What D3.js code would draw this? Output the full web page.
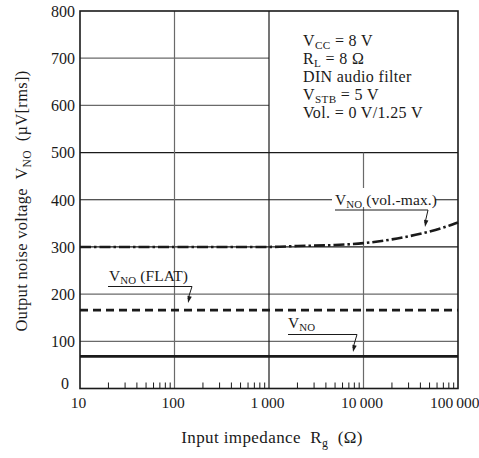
<!DOCTYPE html>
<html>
<head>
<meta charset="utf-8">
<script src="https://cdn.jsdelivr.net/npm/d3@7"></script>
<style>
  html, body { margin: 0; padding: 0; background: #fff; }
  svg { display: block; font-family: "Liberation Serif", "Times New Roman", serif; }
  svg text { white-space: pre; }
</style>
</head>
<body>
<svg id="chart" width="479" height="458"></svg>
<script>
// Input impedance (Ω) and output noise voltage (µV rms)
const rgFlat = [10, 100000];
const vnoValues = [68, 68];
const vnoFlatValues = [166, 166];
const rgVolMax = [10, 100, 1000, 2000, 5000, 10000, 20000, 40000, 70000, 100000];
const vnoVolMaxValues = [300, 300, 300, 302, 304, 308, 316, 328, 341, 352];

const xTickValues = [10, 100, 1000, 10000, 100000];
const xTickLabels = ["10", "100", "1\u2009000", "10\u2009000", "100\u2009000"];
const yTickValues = [0, 100, 200, 300, 400, 500, 600, 700, 800];

const conditions = [
  [["V", ""], ["CC", "sub"], [" = 8 V", ""]],
  [["R", ""], ["L", "sub"], [" = 8 Ω", ""]],
  [["DIN audio filter", ""]],
  [["V", ""], ["STB", "sub"], [" = 5 V", ""]],
  [["Vol. = 0 V/1.25 V", ""]]
];

const svg = d3.select("#chart");
const L = 80, R = 458, T = 11, B = 388.5;
const ink = "#1a1a1a";

const x = d3.scaleLog().domain([10, 100000]).range([L, R]);
const y = d3.scaleLinear().domain([0, 800]).range([B, T]);

const g = svg.append("g");

// Horizontal grid (lines above 500 stop at the conditions box)
const darkRows = new Set([300, 400, 500]);
yTickValues.filter(v => v > 0 && v < 800).forEach(v => {
  const xEnd = v > 500 ? x(1000) : R;
  g.append("line")
    .attr("x1", L).attr("x2", xEnd)
    .attr("y1", y(v)).attr("y2", y(v))
    .attr("stroke", darkRows.has(v) ? ink : "#6a6a6a")
    .attr("stroke-width", 1.2);
});

// Vertical grid at decades
[[100, "#6a6a6a", 800], [1000, ink, 800], [10000, "#6a6a6a", 500]].forEach(([v, c, top]) => {
  g.append("line")
    .attr("x1", x(v)).attr("x2", x(v))
    .attr("y1", y(top)).attr("y2", B)
    .attr("stroke", c).attr("stroke-width", 1.2);
});

// Minor ticks along the bottom axis, pointing inward
const minor = [];
for (let d = 10; d < 100000; d *= 10) {
  for (let k = 2; k <= 9; k++) minor.push(d * k);
}
g.selectAll("line.minor").data(minor).join("line")
  .attr("class", "minor")
  .attr("x1", d => x(d)).attr("x2", d => x(d))
  .attr("y1", B).attr("y2", B - 6)
  .attr("stroke", ink).attr("stroke-width", 1);

// Curves
const line = d3.line().x(d => x(d[0])).y(d => y(d[1]));

g.append("path")
  .datum(d3.zip(rgFlat, vnoValues))
  .attr("d", line).attr("fill", "none")
  .attr("stroke", ink).attr("stroke-width", 2.8);

g.append("path")
  .datum(d3.zip(rgFlat, vnoFlatValues))
  .attr("d", line).attr("fill", "none")
  .attr("stroke", ink).attr("stroke-width", 2.6)
  .attr("stroke-dasharray", "8,5");

g.append("path")
  .datum(d3.zip(rgVolMax, vnoVolMaxValues))
  .attr("d", line.curve(d3.curveMonotoneX)).attr("fill", "none")
  .attr("stroke", ink).attr("stroke-width", 2.6)
  .attr("stroke-dasharray", "11,3,2.5,3");

// Frame
g.append("rect")
  .attr("x", L).attr("y", T).attr("width", R - L).attr("height", B - T)
  .attr("fill", "none").attr("stroke", ink).attr("stroke-width", 1.6);

// Tick labels
const yAxis = d3.axisLeft(y).tickValues(yTickValues).tickSize(0).tickPadding(6);
const ya = svg.append("g").attr("transform", `translate(${L},0)`).call(yAxis);
ya.select(".domain").remove();
ya.selectAll("text")
  .attr("font-size", 16)
  .attr("font-family", "Liberation Serif, serif")
  .attr("fill", ink)
  .attr("dy", d => d === 0 ? "0" : "0.33em")
  .attr("x", d => d === 0 ? -11 : -5);

const xAxis = d3.axisBottom(x).tickValues(xTickValues)
  .tickFormat((d, i) => xTickLabels[i]).tickSize(0).tickPadding(8);
const xa = svg.append("g").attr("transform", `translate(0,${B})`).call(xAxis);
xa.select(".domain").remove();
xa.selectAll("text")
  .attr("font-size", 15.5)
  .attr("font-family", "Liberation Serif, serif")
  .attr("fill", ink)
  .attr("text-anchor", (d, i) => i === xTickValues.length - 1 ? "end" : "middle")
  .attr("x", (d, i) => i === xTickValues.length - 1 ? 21 : -2);

// Text with subscripts
function richText(sel, parts, size) {
  const shift = size * 0.22;
  parts.forEach(([t, kind], i) => {
    const ts = sel.append("tspan").text(t);
    if (kind === "sub") {
      ts.attr("font-size", size * 0.7).attr("dy", shift);
    } else {
      ts.attr("font-size", size);
      if (i > 0 && parts[i - 1][1] === "sub") ts.attr("dy", -shift);
    }
  });
}

// Test conditions
conditions.forEach((parts, i) => {
  const t = svg.append("text")
    .attr("x", 303).attr("y", 45.5 + i * 18)
    .attr("letter-spacing", 0.35)
    .attr("fill", ink);
  richText(t, parts, 16);
});

// Curve annotations: label, underline and leader arrow
function annotate(tx, ty, parts, ux1, ux2, uy, ax, ay, clear) {
  if (clear) {
    svg.append("rect")
      .attr("x", clear[0]).attr("y", clear[1])
      .attr("width", clear[2]).attr("height", clear[3])
      .attr("fill", "#fff");
  }
  const t = svg.append("text").attr("x", tx).attr("y", ty)
    .attr("letter-spacing", 0.1).attr("fill", ink);
  richText(t, parts, 15.5);
  svg.append("line")
    .attr("x1", ux1).attr("x2", ux2).attr("y1", uy).attr("y2", uy)
    .attr("stroke", ink).attr("stroke-width", 1);
  svg.append("line")
    .attr("x1", ux2).attr("y1", uy).attr("x2", ax).attr("y2", ay - 4)
    .attr("stroke", ink).attr("stroke-width", 1);
  const ang = Math.atan2(ay - uy, ax - ux2);
  const len = 7, w = 2.2;
  const bx = ax - len * Math.cos(ang), by = ay - len * Math.sin(ang);
  const px = -Math.sin(ang) * w, py = Math.cos(ang) * w;
  svg.append("path")
    .attr("d", `M${ax},${ay}L${bx + px},${by + py}L${bx - px},${by - py}Z`)
    .attr("fill", ink);
}

annotate(335, 204.5, [["V", ""], ["NO", "sub"], [" (vol.-max.)", ""]],
  335, 428, 210, 425, 227, [332, 188, 103, 19]);
annotate(109, 281, [["V", ""], ["NO", "sub"], [" (FLAT)", ""]],
  108, 192, 286.5, 188, 303, null);
annotate(288, 327.5, [["V", ""], ["NO", "sub"]],
  288, 357, 334.5, 353, 352, null);

// Axis titles
const yTitle = svg.append("text")
  .attr("transform", "translate(27,201) rotate(-90)")
  .attr("text-anchor", "middle")
  .attr("letter-spacing", 0.3)
  .attr("fill", ink);
richText(yTitle, [["Output noise voltage  V", ""], ["NO", "sub"], ["  (µV[rms])", ""]], 16.5);

const xTitle = svg.append("text")
  .attr("x", 272).attr("y", 443)
  .attr("text-anchor", "middle")
  .attr("letter-spacing", 0.4)
  .attr("fill", ink);
richText(xTitle, [["Input impedance  R", ""], ["g", "sub"], ["  (Ω)", ""]], 17);
</script>
</body>
</html>
